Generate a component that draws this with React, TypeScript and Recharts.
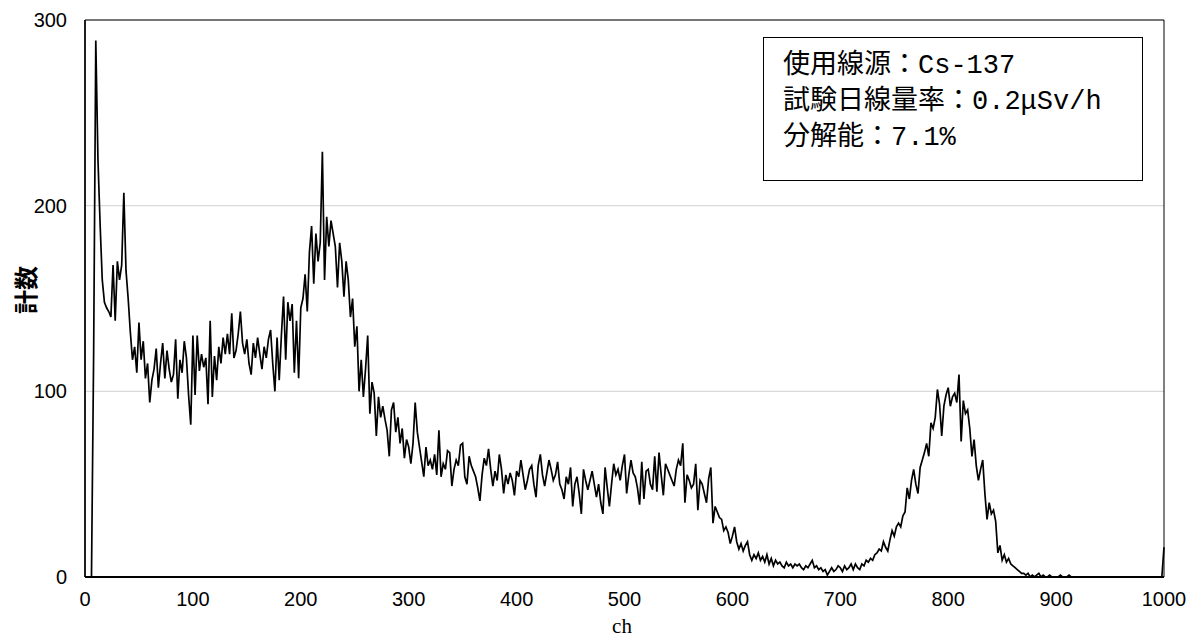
import { LineChart, Line, XAxis, YAxis, CartesianGrid, ReferenceArea } from 'recharts'

// counts per channel, every 2 channels (ch 0..1000)
const CH_STEP = 2
const counts = [
  0, 0, 0, 0, 120, 289, 225, 190, 160, 148,
  145, 143, 140, 168, 138, 170, 160, 168, 207, 165,
  150, 132, 117, 124, 110, 137, 117, 127, 107, 115,
  94, 106, 112, 123, 102, 115, 126, 107, 122, 112,
  105, 109, 128, 96, 117, 110, 127, 118, 98, 82,
  130, 98, 130, 111, 120, 113, 118, 93, 138, 97,
  119, 106, 124, 115, 129, 120, 131, 120, 142, 118,
  122, 131, 143, 126, 120, 128, 115, 109, 126, 118,
  129, 120, 112, 124, 118, 128, 133, 115, 100, 129,
  106, 130, 151, 117, 148, 138, 147, 110, 138, 107,
  145, 150, 163, 143, 175, 189, 158, 185, 170, 180,
  229, 160, 194, 178, 192, 185, 178, 156, 180, 170,
  151, 170, 160, 140, 150, 124, 135, 100, 117, 97,
  112, 130, 88, 105, 99, 76, 97, 86, 92, 85,
  79, 65, 90, 94, 78, 86, 72, 80, 64, 74,
  70, 61, 72, 94, 78, 70, 62, 54, 70, 60,
  63, 58, 66, 55, 79, 54, 61, 58, 68, 67,
  49, 58, 63, 60, 71, 72, 54, 50, 65, 60,
  57, 54, 48, 41, 55, 64, 60, 69, 58, 49,
  57, 52, 66, 58, 45, 55, 50, 56, 52, 44,
  57, 54, 63, 55, 47, 52, 58, 60, 50, 43,
  60, 66, 55, 49, 56, 63, 58, 52, 55, 62,
  50, 47, 42, 54, 50, 59, 38, 50, 54, 45,
  34, 58, 52, 47, 52, 57, 50, 43, 50, 40,
  34, 59, 48, 38, 50, 61, 55, 58, 52, 60,
  66, 45, 55, 63, 56, 54, 48, 39, 62, 42,
  57, 58, 50, 47, 65, 46, 67, 55, 44, 61,
  58, 55, 52, 49, 58, 63, 60, 72, 40, 55,
  52, 48, 50, 61, 36, 52, 50, 45, 40, 53,
  59, 29, 38, 35, 32, 31, 25, 27, 24, 18,
  22, 27, 19, 15, 18, 14, 17, 19, 12, 9,
  12, 10, 13, 9, 11, 8, 12, 7, 10, 6,
  9, 7, 8, 6, 5, 8, 6, 7, 5, 7,
  6, 7, 5, 4, 6, 5, 7, 9, 5, 6,
  4, 5, 3, 4, 1, 3, 5, 3, 4, 6,
  5, 3, 6, 4, 5, 7, 4, 7, 5, 4,
  7, 6, 9, 8, 10, 9, 12, 13, 15, 14,
  19, 16, 14, 20, 25, 22, 27, 29, 27, 33,
  35, 48, 42, 52, 58, 50, 45, 59, 63, 67,
  72, 65, 83, 80, 86, 101, 93, 76, 92, 98,
  102, 92, 97, 99, 94, 109, 73, 95, 88, 90,
  80, 65, 74, 60, 52, 58, 63, 45, 31, 40,
  34, 36, 30, 13, 17, 9, 12, 8, 10, 7,
  6, 5, 4, 3, 2, 2, 1, 2, 0, 1,
  0, 1, 2, 0, 1, 0, 0, 1, 0, 0,
  0, 0, 1, 0, 0, 0, 1, 0, 0, 0,
  0, 0, 0, 0, 0, 0, 0, 0, 0, 0,
  0, 0, 0, 0, 0, 0, 0, 0, 0, 0,
  0, 0, 0, 0, 0, 0, 0, 0, 0, 0,
  0, 0, 0, 0, 0, 0, 0, 0, 0, 0,
  16,
]

const xTicks = [0, 100, 200, 300, 400, 500, 600, 700, 800, 900, 1000]
const yTicks = [0, 100, 200, 300]

const infoLines = ['使用線源：Cs-137', '試験日線量率：0.2μSv/h', '分解能：7.1%']

const data = counts.map((v, i) => ({ ch: i * CH_STEP, value: v }))

const tickStyle = { fontSize: 20, fill: '#000', fontFamily: '"Liberation Sans", Arial, sans-serif' }

export default function App() {
  return (
    <div style={{ position: 'absolute', left: 0, top: 0, width: 1193, height: 637, overflow: 'hidden', background: '#fff' }}>
      <LineChart width={1193} height={637} data={data} margin={{ top: 20, right: 29, left: 0, bottom: 0 }}>
        <CartesianGrid vertical={false} stroke="#d9d9d9" strokeWidth={1.2} />
        <XAxis
          dataKey="ch"
          type="number"
          domain={[0, 1000]}
          ticks={xTicks}
          height={60}
          tickSize={0}
          tickMargin={15}
          tick={tickStyle}
          axisLine={{ stroke: '#000', strokeWidth: 2 }}
          label={{
            content: () => (
              <text x={622} y={626} textAnchor="middle" dominantBaseline="central"
                style={{ fontFamily: '"Liberation Serif", "DejaVu Serif", serif', fontSize: 21, fill: '#000' }}>ch</text>
            ),
          }}
        />
        <YAxis
          type="number"
          domain={[0, 300]}
          ticks={yTicks}
          width={85}
          tickSize={0}
          tickMargin={18}
          tick={tickStyle}
          axisLine={{ stroke: '#000', strokeWidth: 1.5 }}
          label={{
            content: () => (
              <text x={24} y={290} transform="rotate(-90 24 290)" textAnchor="middle" dominantBaseline="central"
                style={{ fontFamily: '"Noto Sans CJK JP", sans-serif', fontSize: 24, fontWeight: 700, fill: '#000' }}>計数</text>
            ),
          }}
        />
        <ReferenceArea x1={0} x2={1000} y1={0} y2={300} fill="none" stroke="#000" strokeWidth={1} />
        <Line type="linear" dataKey="value" stroke="#000" strokeWidth={1.7} dot={false} isAnimationActive={false} />
      </LineChart>
      <div
        style={{
          position: 'absolute',
          left: 763,
          top: 37,
          width: 380,
          height: 144,
          boxSizing: 'border-box',
          border: '1px solid #000',
          background: '#fff',
          padding: '10px 0 0 19px',
          fontFamily: '"Liberation Mono", "Noto Sans CJK JP", monospace',
          fontSize: 27,
          lineHeight: '36px',
          color: '#000',
        }}
      >
        {infoLines.map((t) => (
          <div key={t}>{t}</div>
        ))}
      </div>
    </div>
  )
}
